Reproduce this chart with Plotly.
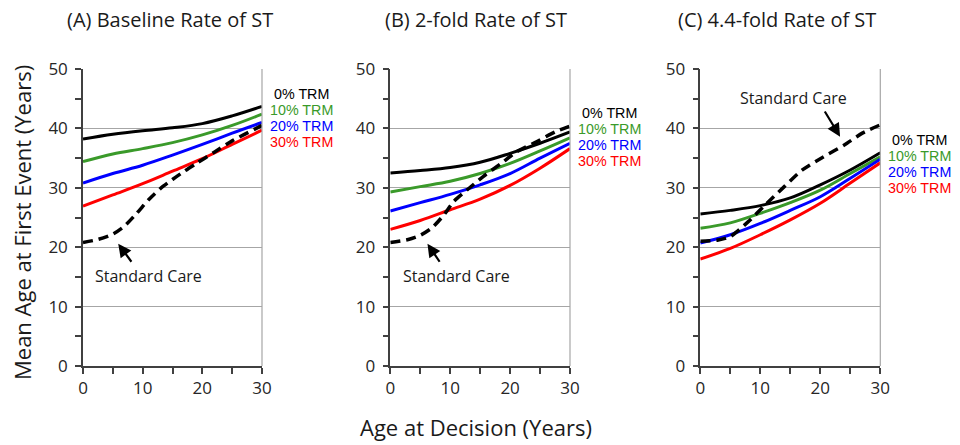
import plotly.graph_objects as go

# ---------------- data ----------------
x_age = [0, 5, 10, 15, 20, 25, 30]

# Panel A: Baseline rate of ST
a_trm0 = [38.2, 39.0, 39.6, 40.1, 40.8, 42.1, 43.7]
a_trm10 = [34.4, 35.7, 36.6, 37.6, 38.9, 40.5, 42.4]
a_trm20 = [30.8, 32.4, 33.8, 35.5, 37.3, 39.2, 41.0]
a_trm30 = [26.9, 28.8, 30.7, 32.8, 34.9, 37.3, 39.7]
a_sc_x = [0, 2.5, 5, 7, 9, 11, 13, 15, 17, 19, 22, 25, 30]
a_sc_y = [20.8, 21.3, 22.2, 23.6, 25.7, 28.0, 29.9, 31.4, 32.8, 34.1, 36.0, 37.9, 40.5]

# Panel B: 2-fold rate of ST
b_trm0 = [32.5, 32.9, 33.4, 34.3, 35.8, 37.5, 39.4]
b_trm10 = [29.3, 30.2, 31.1, 32.4, 34.1, 36.2, 38.4]
b_trm20 = [26.1, 27.5, 28.9, 30.5, 32.4, 35.0, 37.5]
b_trm30 = [23.0, 24.5, 26.3, 28.1, 30.4, 33.3, 36.6]
b_sc_x = [0, 3, 5, 7, 9, 10.5, 13, 15.5, 18.5, 21, 24.5, 27.5, 30]
b_sc_y = [20.8, 21.3, 22.0, 23.3, 25.5, 27.6, 29.8, 31.9, 34.1, 36.0, 37.8, 39.4, 40.4]

# Panel C: 4.4-fold rate of ST
c_trm0 = [25.6, 26.2, 27.0, 28.3, 30.5, 33.0, 35.9]
c_trm10 = [23.2, 24.1, 25.7, 27.5, 29.6, 32.4, 35.2]
c_trm20 = [20.7, 22.1, 24.0, 26.2, 28.5, 31.6, 34.8]
c_trm30 = [18.0, 19.8, 22.1, 24.6, 27.4, 30.8, 34.2]
c_sc_x = [0, 3, 5, 8, 10.5, 14, 17, 20.5, 24, 27, 30]
c_sc_y = [21.0, 21.2, 21.8, 24.3, 26.8, 30.2, 33.0, 35.2, 37.2, 39.2, 40.6]

panel_titles = ["(A) Baseline Rate of ST", "(B) 2-fold Rate of ST", "(C) 4.4-fold Rate of ST"]
trm_labels = ["0% TRM", "10% TRM", "20% TRM", "30% TRM"]
trm_label_y = [[45.75, 43.05, 40.35, 37.65],
               [42.55, 39.85, 37.15, 34.45],
               [38.1, 35.4, 32.7, 30.0]]
sc_label = "Standard Care"
x_title = "Age at Decision (Years)"
y_title = "Mean Age at First Event (Years)"
y_ticks = [0, 10, 20, 30, 40, 50]
x_ticks = [0, 10, 20, 30]

# ---------------- styling ----------------
colors = ["#000000", "#3A9A2A", "#0000FF", "#FF0000"]
FONT = "Open Sans"
LABEL_FONT = "Liberation Sans"
W, H = 960, 445
x_domains = [[83 / W, 262 / W], [390.3 / W, 570 / W], [700.3 / W, 880.3 / W]]
y_domain = [1 - 366 / H, 1 - 69 / H]
title_x_px = [170, 476, 777]
label_x_dom = 1.22  # TRM label centre, in axis-domain fraction

panels = [
    ([a_trm0, a_trm10, a_trm20, a_trm30], a_sc_x, a_sc_y),
    ([b_trm0, b_trm10, b_trm20, b_trm30], b_sc_x, b_sc_y),
    ([c_trm0, c_trm10, c_trm20, c_trm30], c_sc_x, c_sc_y),
]
# annotation placement for "Standard Care" text and its arrow (head, tail)
sc_text_pos = [(11.06, 15.15), (11.1, 15.2), (15.5, 45.1)]
sc_arrow = [((5.9, 20.6), (8.3, 17.3)), ((6.2, 20.6), (8.4, 17.3)), ((23.3, 38.6), (20.6, 43.1))]

fig = go.Figure()
annotations = []
shapes = []

for i, (trms, scx, scy) in enumerate(panels):
    xa = "x" if i == 0 else f"x{i + 1}"
    ya = "y" if i == 0 else f"y{i + 1}"
    for k, ys in enumerate(trms):
        fig.add_trace(go.Scatter(
            x=x_age, y=ys, mode="lines", xaxis=xa, yaxis=ya,
            line=dict(color=colors[k], width=3, shape="spline", smoothing=1.0),
            showlegend=False, hoverinfo="skip"))
    fig.add_trace(go.Scatter(
        x=scx, y=scy, mode="lines", xaxis=xa, yaxis=ya,
        line=dict(color="#000000", width=3.5, dash="10px,6px", shape="spline", smoothing=0.7),
        showlegend=False, hoverinfo="skip"))

    axis_common = dict(
        showline=True, linecolor="#404040", linewidth=1.5,
        ticks="outside", ticklen=6, tickwidth=1.5, tickcolor="#404040",
        tickfont=dict(family=FONT, size=17, color="#262626"),
        zeroline=False, automargin=False,
    )
    fig.update_layout(**{
        ("xaxis" if i == 0 else f"xaxis{i + 1}"): dict(
            axis_common, domain=x_domains[i], range=[0, 30], anchor=ya,
            tickvals=x_ticks, showgrid=False,
            minor=dict(dtick=5, ticks="outside", ticklen=6, tickwidth=1.5, tickcolor="#404040", showgrid=False)),
        ("yaxis" if i == 0 else f"yaxis{i + 1}"): dict(
            axis_common, domain=y_domain, range=[0, 50], anchor=xa,
            tickvals=y_ticks, showgrid=True, gridcolor="#A6A6A6", gridwidth=1,
            ticklabelstandoff=4,
            minor=dict(dtick=5, ticks="outside", ticklen=6, tickwidth=1.5, tickcolor="#404040", showgrid=False)),
    })

    # right border
    shapes.append(dict(type="line", xref=f"{xa} domain", yref=f"{ya} domain",
                       x0=1, x1=1, y0=0, y1=1, line=dict(color="#A6A6A6", width=1.2)))

    # TRM labels
    for k, lab in enumerate(trm_labels):
        annotations.append(dict(
            xref=f"{xa} domain", yref=ya, x=label_x_dom, y=trm_label_y[i][k], text=lab,
            showarrow=False, xanchor="center", yanchor="middle", borderpad=0,
            font=dict(family=LABEL_FONT, size=14.3, color=colors[k])))

    # Standard care label + arrow
    tx, ty = sc_text_pos[i]
    annotations.append(dict(
        xref=xa, yref=ya, x=tx, y=ty, text=sc_label, showarrow=False,
        xanchor="center", yanchor="middle",
        font=dict(family=FONT, size=16, color="#1a1a1a")))
    (hx, hy), (tlx, tly) = sc_arrow[i]
    annotations.append(dict(
        xref=xa, yref=ya, x=hx, y=hy, ax=tlx, ay=tly, axref=xa, ayref=ya,
        text="", showarrow=True, arrowhead=2, arrowsize=1.2, arrowwidth=2.2,
        arrowcolor="#000000"))

    # panel title
    annotations.append(dict(
        xref="paper", yref="paper", x=title_x_px[i] / W, y=1 - 19 / H, text=panel_titles[i],
        showarrow=False, xanchor="center", yanchor="middle",
        font=dict(family=FONT, size=20, color="#1a1a1a")))

# axis titles
annotations.append(dict(
    xref="paper", yref="paper", x=476 / W, y=1 - 427 / H, text=x_title,
    showarrow=False, xanchor="center", yanchor="middle",
    font=dict(family=FONT, size=22, color="#1a1a1a")))
annotations.append(dict(
    xref="paper", yref="paper", x=22 / W, y=1 - 223 / H, text=y_title, textangle=-90,
    showarrow=False, xanchor="center", yanchor="middle",
    font=dict(family=FONT, size=22, color="#1a1a1a")))

fig.update_layout(
    width=W, height=H, margin=dict(l=0, r=0, t=0, b=0, autoexpand=False),
    paper_bgcolor="white", plot_bgcolor="white",
    annotations=annotations, shapes=shapes, showlegend=False,
)

fig.write_html("out.html")
